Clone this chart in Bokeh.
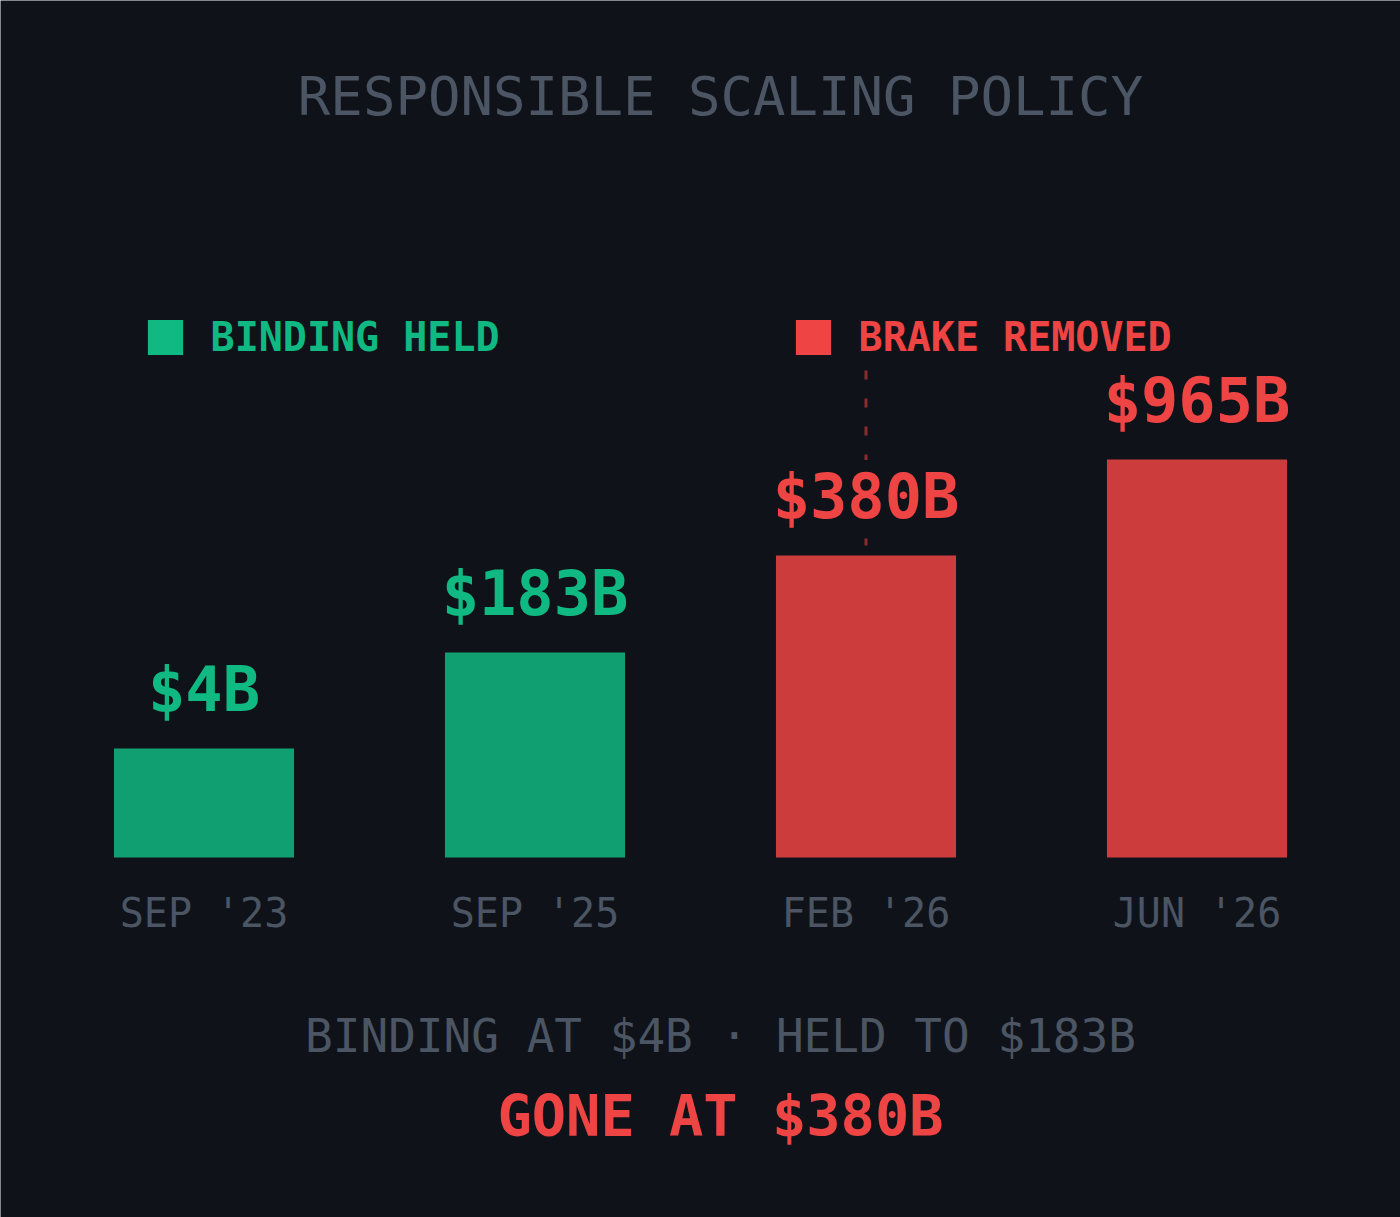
from bokeh.plotting import figure
from bokeh.models import FactorRange, Range1d, Label, Legend, LegendItem, ColumnDataSource
from bokeh.core.properties import value
from bokeh.embed import file_html
from bokeh.resources import INLINE

# ---- data ----
categories = ["SEP '23", "SEP '25", "FEB '26", "JUN '26"]
values_billion = [4, 183, 380, 965]
value_labels = ["$4B", "$183B", "$380B", "$965B"]
bar_heights = [109, 205, 302, 398]          # drawn heights (not to scale)
groups = ["BINDING HELD", "BINDING HELD", "BRAKE REMOVED", "BRAKE REMOVED"]
group_names = ["BINDING HELD", "BRAKE REMOVED"]
title_text = "RESPONSIBLE SCALING POLICY"
footer_line1 = "BINDING AT $4B · HELD TO $183B"
footer_line2 = "GONE AT $380B"

# ---- styles ----
BG = "#0f1319"
GRAY = "#4b5563"
GREEN = "#10b981"
RED = "#ef4444"
group_colors = {"BINDING HELD": GREEN, "BRAKE REMOVED": RED}
FONT = "DejaVu Sans Mono"

colors = [group_colors[g] for g in groups]
src = ColumnDataSource(dict(cat=categories, top=bar_heights, label=value_labels,
                            color=colors, zero=[0] * len(categories)))

p = figure(width=1400, height=1217,
           x_range=FactorRange(*categories, range_padding=0.1148, range_padding_units="absolute"),
           y_range=Range1d(-360, 857),
           output_backend="svg", toolbar_location=None,
           x_axis_location=None, y_axis_location=None,
           min_border=0, min_border_left=0, min_border_right=0, min_border_top=0, min_border_bottom=0,
           background_fill_color=BG, border_fill_color=BG, outline_line_color=None)
p.grid.visible = False

# bars
p.vbar(x="cat", top="top", bottom=0, width=0.544, source=src,
       fill_color="color", fill_alpha=0.85, line_color=None)

# dashed marker from legend to FEB '26 bar
LEGEND_Y = 519
p.segment(x0=[categories[2]], y0=[LEGEND_Y - 32], x1=[categories[2]], y1=[bar_heights[2] + 10],
          line_color=RED, line_alpha=0.55, line_width=3, line_dash="9 19")

# value labels
p.text(x="cat", y="top", text="label", source=src, y_offset=-59,
       text_color="color", text_font=value(FONT), text_font_size="62px",
       text_font_style="bold", text_align="center", text_baseline="alphabetic",
       background_fill_color=BG)

# category labels
p.text(x="cat", y="zero", text="cat", source=src, y_offset=55,
       text_color=GRAY, text_font=value(FONT), text_font_size="40px",
       text_align="center", text_baseline="middle")

# legends (one per group so each label keeps its own colour)
legend_x = {"BINDING HELD": 142.6, "BRAKE REMOVED": 790.6}
for name in group_names:
    dummy = p.vbar(x=[categories[0]], top=[0], bottom=0, width=0.0,
                   fill_color=group_colors[name], line_color=None)
    leg = Legend(items=[LegendItem(label=name, renderers=[dummy])],
                 location=(legend_x[name], 857.0), orientation="horizontal",
                 padding=0, margin=0, glyph_width=44, glyph_height=44, label_standoff=24,
                 label_text_font=FONT, label_text_font_size="40px", label_text_font_style="bold",
                 label_text_color=group_colors[name], label_text_baseline="middle",
                 border_line_color=None, background_fill_alpha=0)
    p.add_layout(leg)

# title and footer
p.add_layout(Label(x=720, x_units="screen", y=857 - 96, text=title_text,
                   text_font=FONT, text_font_size="54px", text_color=GRAY,
                   text_align="center", text_baseline="middle"))
p.add_layout(Label(x=720, x_units="screen", y=857 - 1035, text=footer_line1,
                   text_font=FONT, text_font_size="46px", text_color=GRAY,
                   text_align="center", text_baseline="middle"))
p.add_layout(Label(x=720, x_units="screen", y=857 - 1115, text=footer_line2,
                   text_font=FONT, text_font_size="57px", text_font_style="bold", text_color=RED,
                   text_align="center", text_baseline="middle"))

open("out.html", "w").write(file_html(p, INLINE))
